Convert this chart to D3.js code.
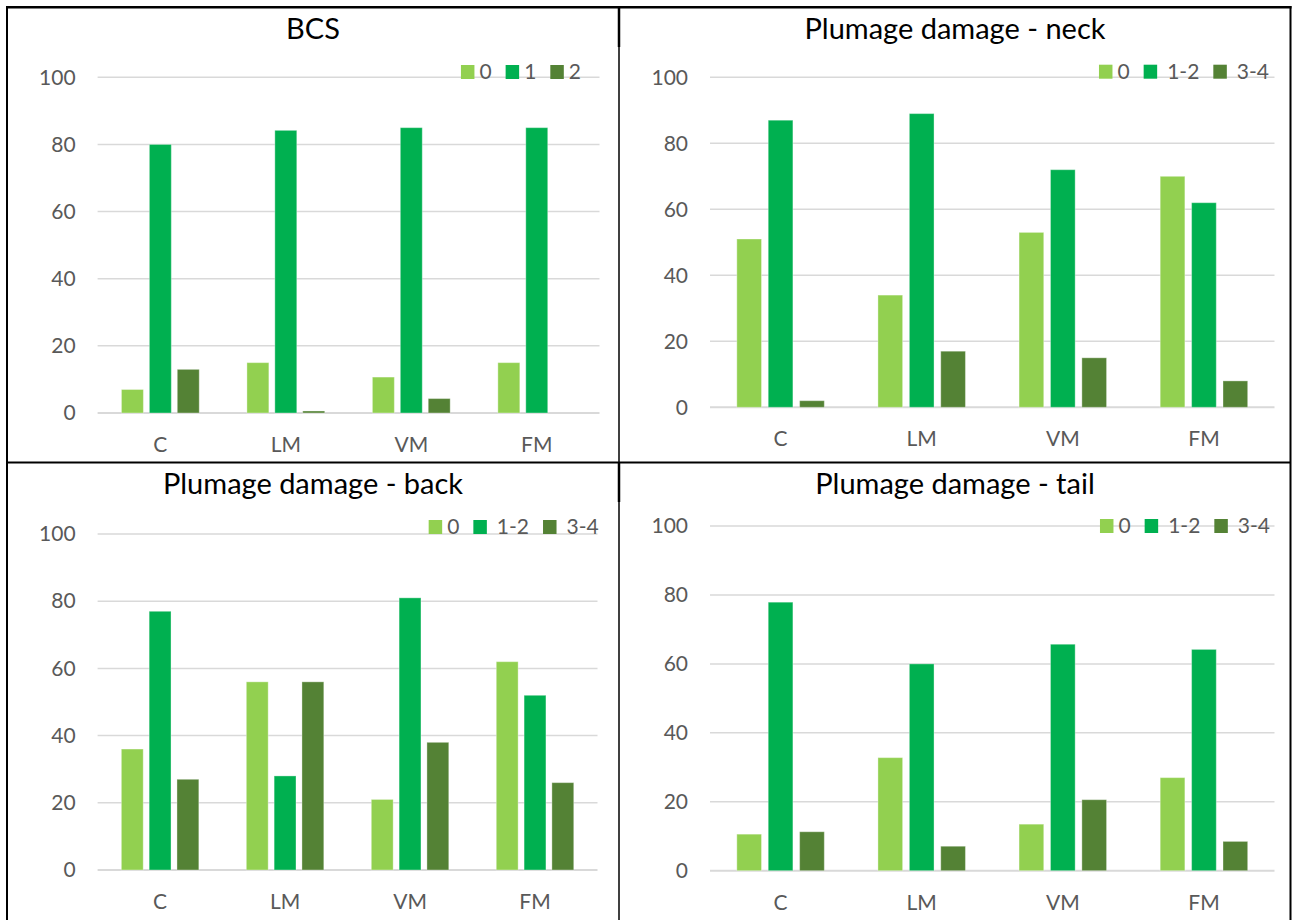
<!DOCTYPE html>
<meta charset="utf-8">
<style>
  body { margin: 0; background: #fff; }
  text { font-family: Lato, "Open Sans", sans-serif; }
</style>
<script src="https://d3js.org/d3.v7.min.js"></script>
<div id="chart"></div>
<script>

// categories and series keys
const categories = ["C", "LM", "VM", "FM"];
const bcsKeys = ["0", "1", "2"];
const damageKeys = ["0", "1-2", "3-4"];
const yTicks = [0, 20, 40, 60, 80, 100];

// BCS
const bcs0 = [7, 15, 10.7, 15];
const bcs1 = [80, 84.2, 85, 85];
const bcs2 = [13, 0.6, 4.3, 0];

// Plumage damage - neck
const neck0 = [51, 34, 53, 70];
const neck12 = [87, 89, 72, 62];
const neck34 = [2, 17, 15, 8];

// Plumage damage - back
const back0 = [36, 56, 21, 62];
const back12 = [77, 28, 81, 52];
const back34 = [27, 56, 38, 26];

// Plumage damage - tail
const tail0 = [10.6, 32.8, 13.5, 27];
const tail12 = [77.9, 60, 65.7, 64.2];
const tail34 = [11.3, 7.1, 20.6, 8.5];

const colors = ["#92D050", "#00B050", "#548235"];

// one entry per panel: data + where it sits on the page
const panels = [
  {title: "BCS", keys: bcsKeys, series: [bcs0, bcs1, bcs2],
   left: 97.6, right: 599.5, top: 77.3, base: 413, cx: 313, titleY: 39, legendRight: 581, legendY: 72},
  {title: "Plumage damage - neck", keys: damageKeys, series: [neck0, neck12, neck34],
   left: 710, right: 1274.5, top: 77.3, base: 407.3, cx: 955, titleY: 39, legendRight: 1269, legendY: 71.7},
  {title: "Plumage damage - back", keys: damageKeys, series: [back0, back12, back34],
   left: 97.6, right: 597.5, top: 534, base: 870, cx: 313, titleY: 494, legendRight: 598.7, legendY: 527},
  {title: "Plumage damage - tail", keys: damageKeys, series: [tail0, tail12, tail34],
   left: 710, right: 1274.5, top: 526, base: 870.7, cx: 955, titleY: 494, legendRight: 1270, legendY: 526}
];

const W = 1292, H = 920;
const svg = d3.select("#chart").append("svg")
  .attr("width", W)
  .attr("height", H);

svg.append("rect").attr("width", W).attr("height", H).attr("fill", "#fff");

panels.forEach(function(p) {
  const g = svg.append("g");

  const x0 = d3.scaleBand()
    .domain(categories)
    .range([p.left, p.right])
    .paddingInner(0.38)
    .paddingOuter(0.19);

  const x1 = d3.scaleBand()
    .domain(p.keys)
    .range([0, x0.bandwidth()])
    .paddingInner(0.214);

  const y = d3.scaleLinear()
    .domain([0, 100])
    .range([p.base, p.top]);

  // gridlines
  g.selectAll(".grid").data(yTicks).join("line")
    .attr("x1", p.left).attr("x2", p.right)
    .attr("y1", d => y(d)).attr("y2", d => y(d))
    .attr("stroke", "#d9d9d9")
    .attr("stroke-width", d => d === 0 ? 2 : 1.5);

  // y axis labels
  const yAxis = g.append("g")
    .attr("transform", `translate(${p.left},0)`)
    .call(d3.axisLeft(y).tickValues(yTicks).tickSize(0).tickPadding(22));
  yAxis.select(".domain").remove();
  yAxis.selectAll("text")
    .attr("fill", "#595959")
    .style("font-size", "21px")
    .style("font-family", "Lato");

  // x axis labels
  const xAxis = g.append("g")
    .attr("transform", `translate(0,${p.base})`)
    .call(d3.axisBottom(x0).tickSize(0).tickPadding(24));
  xAxis.select(".domain").remove();
  xAxis.selectAll("text")
    .attr("fill", "#595959")
    .style("font-size", "21px")
    .style("font-family", "Lato");

  // bars
  const rows = categories.map(function(c, i) {
    return {cat: c, vals: p.keys.map((k, j) => ({key: k, j: j, value: p.series[j][i]}))};
  });

  g.selectAll(".grp").data(rows).join("g")
    .attr("transform", d => `translate(${x0(d.cat)},0)`)
    .selectAll("rect").data(d => d.vals.filter(v => v.value > 0)).join("rect")
      .attr("x", d => x1(d.key))
      .attr("width", x1.bandwidth())
      .attr("y", d => y(d.value))
      .attr("height", d => y(0) - y(d.value))
      .attr("fill", d => colors[d.j])
      .attr("stroke", "#fff")
      .attr("stroke-opacity", 0.35)
      .attr("stroke-width", 1);

  // title
  g.append("text")
    .attr("x", p.cx)
    .attr("y", p.titleY)
    .attr("text-anchor", "middle")
    .attr("fill", "#000")
    .style("font-size", "29px")
    .text(p.title);

  // legend, laid out right to left
  const leg = g.append("g");
  const items = p.keys.map(function(k, j) {
    const t = leg.append("text")
      .attr("fill", "#595959")
      .style("font-size", "21px")
      .attr("dy", "0.35em")
      .attr("y", p.legendY)
      .text(k);
    return {key: k, j: j, text: t, w: t.node().getComputedTextLength(), gap: k.length > 1 ? 10 : 5};
  });
  let xr = p.legendRight;
  for (let j = items.length - 1; j >= 0; j--) {
    const it = items[j];
    it.text.attr("x", xr - it.w);
    const sqx = xr - it.w - it.gap - 13.5;
    leg.append("rect")
      .attr("x", sqx)
      .attr("y", p.legendY - 7)
      .attr("width", 13.5)
      .attr("height", 14)
      .attr("fill", colors[it.j]);
    xr = sqx - 14;
  }
});

// frame and dividers
const frame = [
  [6, 7.3, 1291.5, 7.3, 2.5],
  [7, 6, 7, H, 2],
  [1290.5, 6, 1290.5, H, 2],
  [7, 462.5, 1291, 462.5, 2],
  [619, 7, 619, H, 1.5],
  [619, 7, 619, 47, 2.5],
  [619, 462, 619, 502, 2.5]
];
svg.selectAll(".frame").data(frame).join("line")
  .attr("x1", d => d[0]).attr("y1", d => d[1])
  .attr("x2", d => d[2]).attr("y2", d => d[3])
  .attr("stroke", "#000")
  .attr("stroke-width", d => d[4]);

</script>
